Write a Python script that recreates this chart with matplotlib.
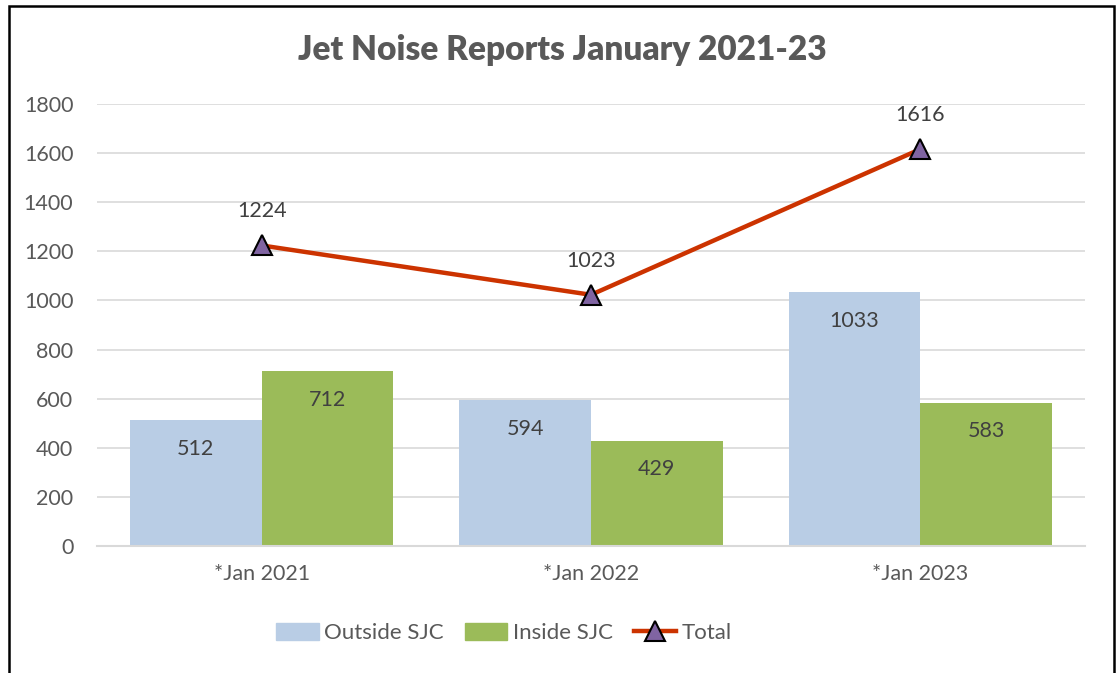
import matplotlib
matplotlib.use("Agg")
import matplotlib.pyplot as plt
import matplotlib.patches as mpatches
from matplotlib.lines import Line2D
import numpy as np

categories = ["*Jan 2021", "*Jan 2022", "*Jan 2023"]
outside = [512, 594, 1033]
inside = [712, 429, 583]
total = [1224, 1023, 1616]
yticks = [0, 200, 400, 600, 800, 1000, 1200, 1400, 1600, 1800]

plt.rcParams['font.family'] = ['Lato', 'DejaVu Sans']

W, H = 1118, 673
fig = plt.figure(figsize=(W / 100, H / 100), dpi=100)
ax = fig.add_axes([97 / W, 1 - 546 / H, (1085 - 97) / W, (546 - 104) / H])

x = np.arange(len(categories))
bw = 0.4
c_out = "#B9CDE5"
c_in = "#9BBB59"
c_line = "#CC3300"
c_mark = "#8064A2"
txt = "#595959"
lab = "#404040"

b1 = ax.bar(x - bw / 2, outside, bw, color=c_out, zorder=2)
b2 = ax.bar(x + bw / 2, inside, bw, color=c_in, zorder=2)
ln, = ax.plot(x, total, color=c_line, lw=3.2, marker="^", markersize=14,
              markerfacecolor=c_mark, markeredgecolor="black", markeredgewidth=1.5,
              zorder=4)

for bars, vals in ((b1, outside), (b2, inside)):
    for r, v in zip(bars, vals):
        ax.annotate(str(v), (r.get_x() + r.get_width() / 2, v), xytext=(0, -20.5),
                    textcoords="offset points", ha="center", va="center",
                    fontsize=15.5, color=lab, zorder=5)
for xi, v in zip(x, total):
    ax.annotate(str(v), (xi, v), xytext=(0, 24.5), textcoords="offset points",
                ha="center", va="center", fontsize=15.5, color=lab, zorder=5)

ax.set_xlim(-0.5, 2.5)
ax.set_ylim(0, 1800)
ax.set_yticks(yticks)
ax.set_xticks(x)
ax.set_xticklabels(categories)
ax.tick_params(axis="both", length=0, labelsize=15.5, colors=txt)
ax.tick_params(axis="y", pad=17)
ax.tick_params(axis="x", pad=13)
ax.yaxis.grid(True, color="#D9D9D9", lw=1.2, zorder=0)
ax.set_axisbelow(True)
for s in ("left", "right", "top"):
    ax.spines[s].set_visible(False)
ax.spines["bottom"].set_color("#D9D9D9")
ax.spines["bottom"].set_linewidth(1.5)

fig.text(562 / W, 1 - 50 / H, "Jet Noise Reports January 2021-23",
         ha="center", va="center", fontsize=24, fontweight="heavy", color=txt)

handles = [mpatches.Patch(color=c_out, label="Outside SJC"),
           mpatches.Patch(color=c_in, label="Inside SJC"),
           Line2D([0], [0], color=c_line, lw=3.2, marker="^", markersize=14,
                  markerfacecolor=c_mark, markeredgecolor="black",
                  markeredgewidth=1.5, label="Total")]
leg = fig.legend(handles=handles, loc="center", bbox_to_anchor=(504 / W, 1 - 633 / H),
                 ncol=3, frameon=False, fontsize=16, handlelength=1.9,
                 handleheight=0.8, handletextpad=0.25, columnspacing=0.95,
                 labelcolor=txt, borderpad=0)

rect = mpatches.Rectangle((9 / W, -0.05), (1114 - 9) / W, 1.05 - 6 / H,
                          transform=fig.transFigure, fill=False, edgecolor="black",
                          lw=1.8, clip_on=False)
fig.patches.append(rect)

fig.savefig("out.png", dpi=100)
